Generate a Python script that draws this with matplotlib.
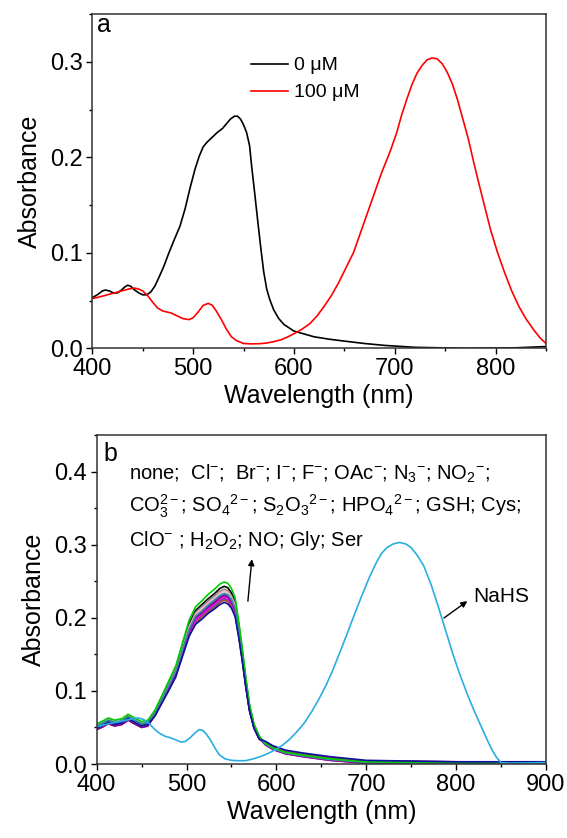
import matplotlib
matplotlib.use("Agg")
import matplotlib.pyplot as plt
from matplotlib.ticker import MultipleLocator, FormatStrFormatter

plt.rcParams['font.family'] = ['Liberation Sans', 'DejaVu Sans']
plt.rcParams['mathtext.fontset'] = 'custom'
plt.rcParams['mathtext.rm'] = 'Liberation Sans'
plt.rcParams['mathtext.it'] = 'Liberation Sans:italic'
plt.rcParams['mathtext.bf'] = 'Liberation Sans:bold'

# ---- panel a: 0 uM vs 100 uM ----
wl_0uM = [400, 405, 410, 413, 417, 421, 425, 429, 432, 435, 438, 442, 446, 450, 454, 458, 462, 466,
          471, 476, 481, 487, 492, 497, 502, 506, 510, 514, 519, 524, 529, 533, 537, 541, 544, 547,
          550, 553, 556, 558, 561, 564, 567, 570, 573, 576, 580, 585, 590, 600, 610, 620, 635, 650,
          670, 690, 720, 770, 820, 850]
abs_0uM = [0.053, 0.056, 0.060, 0.061, 0.060, 0.058, 0.058, 0.061, 0.064, 0.066, 0.065, 0.061, 0.058,
           0.056, 0.056, 0.059, 0.065, 0.074, 0.086, 0.100, 0.113, 0.128, 0.146, 0.168, 0.188, 0.201,
           0.211, 0.216, 0.221, 0.226, 0.230, 0.235, 0.240, 0.243, 0.243, 0.240, 0.234, 0.226, 0.212,
           0.191, 0.163, 0.134, 0.106, 0.080, 0.062, 0.051, 0.040, 0.031, 0.025, 0.018, 0.015, 0.012,
           0.0095, 0.0075, 0.005, 0.003, 0.001, 0.0, 0.0005, 0.0018]

wl_100uM = [400, 408, 415, 422, 429, 436, 442, 446, 450, 455, 460, 465, 470, 478, 484, 490, 496, 500,
            505, 510, 515, 519, 523, 528, 533, 538, 543, 550, 558, 566, 573, 580, 587, 594, 601, 608,
            616, 623, 630, 637, 644, 651, 659, 666, 673, 680, 687, 695, 702, 707, 712, 717, 722, 727,
            732, 737, 742, 747, 752, 757, 762, 767, 773, 778, 784, 790, 795, 802, 809, 816, 823, 830,
            838, 844, 850]
abs_100uM = [0.052, 0.054, 0.056, 0.058, 0.060, 0.062, 0.063, 0.062, 0.060, 0.055, 0.048, 0.042, 0.039,
             0.037, 0.034, 0.031, 0.030, 0.032, 0.038, 0.045, 0.047, 0.045, 0.039, 0.030, 0.020, 0.012,
             0.008, 0.005, 0.0046, 0.0048, 0.0055, 0.007, 0.0088, 0.012, 0.0158, 0.020, 0.026, 0.034,
             0.044, 0.055, 0.068, 0.083, 0.100, 0.121, 0.142, 0.163, 0.184, 0.205, 0.226, 0.245, 0.261,
             0.276, 0.288, 0.296, 0.302, 0.304, 0.303, 0.298, 0.289, 0.277, 0.261, 0.242, 0.219, 0.196,
             0.170, 0.145, 0.124, 0.100, 0.079, 0.060, 0.044, 0.031, 0.019, 0.011, 0.005]

# ---- panel b: interfering species (shared wavelength grid) ----
wl_b = [400, 407, 413, 420, 428, 435, 442, 450, 457, 465, 472, 480, 488, 496, 503, 510, 517, 524, 531,
        537, 542, 546, 550, 554, 558, 562, 566, 570, 575, 581, 588, 596, 610, 630, 660, 700, 800, 900]

none = [.053, .057, .061, .058, .060, .066, .061, .056, .058,
        .072, .090, .110, .131, .164, .192, .210, .218, .226, .233, .240, .243, .241, .234, .222, .191,
        .155, .115, .080, .054, .037,
        .027, .021, .015, .011, .006, .002, .001, .001]
cl = [.052, .056, .060, .057, .059, .065, .060, .055, .057,
      .071, .089, .108, .129, .162, .189, .207, .215, .223, .230, .236, .239, .237, .230, .219, .188,
      .153, .113, .079, .053, .036,
      .027, .021, .015, .011, .006, .002, .001, .001]
br = [.053, .057, .061, .058, .060, .066, .061, .056, .058,
      .070, .088, .107, .128, .160, .187, .205, .213, .220, .227, .234, .237, .235, .228, .216, .186,
      .151, .112, .078, .053, .036,
      .028, .022, .016, .012, .007, .003, .002, .002]
iod = [.051, .055, .059, .056, .058, .064, .059, .054, .056,
       .069, .087, .106, .126, .158, .185, .203, .210, .218, .225, .232, .234, .233, .226, .214, .184,
       .150, .111, .077, .052, .036,
       .028, .022, .016, .012, .007, .003, .002, .002]
fl = [.052, .056, .060, .057, .059, .065, .060, .055, .057,
      .069, .086, .106, .126, .157, .184, .202, .209, .217, .224, .230, .233, .231, .225, .213, .183,
      .149, .110, .077, .052, .036,
      .029, .023, .017, .013, .008, .004, .002, .002]
oac = [.051, .055, .059, .056, .058, .064, .059, .054, .056,
       .069, .086, .105, .125, .157, .183, .201, .208, .216, .223, .229, .232, .230, .223, .212, .182,
       .148, .110, .076, .052, .035,
       .029, .023, .017, .013, .008, .004, .002, .002]
n3 = [.050, .054, .058, .055, .057, .063, .058, .053, .055,
      .068, .086, .105, .124, .156, .182, .200, .207, .215, .221, .228, .231, .229, .222, .211, .181,
      .147, .109, .076, .051, .035,
      .028, .022, .016, .012, .007, .003, .002, .002]
no2 = [.051, .055, .059, .056, .058, .064, .059, .054, .056,
       .068, .085, .104, .124, .155, .181, .198, .206, .214, .220, .227, .230, .228, .221, .210, .180,
       .146, .109, .076, .051, .035,
       .029, .023, .017, .013, .008, .004, .002, .002]
co3 = [.050, .054, .058, .055, .057, .063, .058, .053, .055,
       .068, .085, .103, .123, .154, .180, .197, .205, .212, .219, .226, .228, .227, .220, .209, .180,
       .146, .108, .075, .051, .035,
       .030, .024, .018, .014, .009, .004, .003, .003]
so4 = [.049, .053, .057, .054, .056, .062, .057, .052, .054,
       .067, .084, .103, .122, .153, .180, .196, .204, .211, .218, .224, .227, .225, .219, .208, .179,
       .145, .108, .075, .050, .035,
       .029, .023, .017, .013, .008, .004, .002, .002]
s2o3 = [.050, .054, .058, .055, .057, .063, .058, .053, .055,
        .068, .085, .104, .124, .155, .181, .198, .206, .214, .220, .227, .230, .228, .221, .210, .180,
        .146, .109, .076, .051, .035,
        .028, .022, .016, .012, .007, .003, .002, .002]
hpo4 = [.049, .053, .057, .054, .056, .062, .057, .052, .054,
        .067, .084, .102, .122, .153, .179, .195, .203, .210, .217, .223, .226, .224, .218, .206, .178,
        .144, .107, .074, .050, .034,
        .030, .024, .018, .014, .009, .004, .003, .003]
gsh = [.048, .052, .056, .053, .055, .061, .056, .051, .053,
       .067, .083, .102, .121, .152, .178, .194, .202, .209, .216, .222, .225, .223, .216, .205, .177,
       .143, .106, .074, .050, .034,
       .029, .023, .017, .013, .008, .004, .002, .002]
cys = [.048, .052, .056, .053, .055, .061, .056, .051, .053,
       .066, .083, .101, .121, .151, .177, .193, .201, .208, .214, .221, .224, .222, .215, .204, .176,
       .143, .106, .074, .050, .034,
       .030, .024, .018, .014, .009, .004, .003, .003]
clo = [.047, .051, .055, .052, .054, .060, .055, .050, .052,
       .068, .085, .103, .123, .154, .180, .197, .205, .212, .219, .226, .228, .227, .220, .209, .180,
       .146, .108, .075, .051, .035,
       .026, .020, .014, .010, .005, .001, .000, .001]
h2o2 = [.047, .051, .055, .052, .054, .060, .055, .050, .052,
        .068, .086, .105, .124, .156, .182, .200, .207, .215, .221, .228, .231, .229, .222, .211, .181,
        .147, .109, .076, .051, .035,
        .026, .020, .014, .010, .005, .001, .000, .001]
no = [.049, .053, .057, .054, .056, .062, .057, .052, .054,
      .069, .086, .106, .126, .157, .184, .202, .209, .217, .224, .230, .233, .231, .225, .213, .183,
      .149, .110, .077, .052, .036,
      .027, .021, .015, .011, .006, .002, .001, .001]
gly = [.055, .059, .063, .060, .062, .068, .063, .058, .060,
       .074, .092, .113, .134, .168, .197, .215, .223, .232, .239, .246, .249, .247, .240, .228, .196,
       .159, .118, .082, .055, .038,
       .028, .022, .016, .012, .007, .003, .002, .002]
ser = [.049, .053, .057, .054, .056, .062, .057, .052, .054,
       .066, .082, .100, .119, .149, .175, .191, .198, .206, .212, .218, .221, .219, .213, .202, .174,
       .141, .105, .073, .049, .034,
       .031, .025, .019, .015, .010, .005, .003, .003]

wl_nahs = [400, 410, 420, 430, 440, 446, 452, 458, 464, 470, 476, 482, 488, 494, 499, 504, 509, 514,
           518, 522, 527, 532, 537, 543, 550, 558, 566, 574, 582, 590, 598, 606, 614, 622, 631, 639,
           647, 655, 663, 671, 679, 687, 695, 703, 711, 717, 723, 730, 737, 744, 750, 757, 764, 772,
           780, 788, 796, 804, 812, 820, 828, 835, 840, 845, 850, 860, 880, 900]
abs_nahs = [0.051, 0.054, 0.057, 0.059, 0.062, 0.063, 0.061, 0.056, 0.048, 0.042, 0.038, 0.036, 0.033,
            0.030, 0.031, 0.036, 0.042, 0.047, 0.046, 0.041, 0.032, 0.021, 0.012, 0.007, 0.005, 0.0045,
            0.0046, 0.007, 0.010, 0.014, 0.019, 0.025, 0.033, 0.043, 0.056, 0.071, 0.088, 0.107, 0.129,
            0.154, 0.179, 0.205, 0.230, 0.254, 0.275, 0.288, 0.296, 0.301, 0.303, 0.301, 0.296, 0.285,
            0.271, 0.246, 0.216, 0.184, 0.152, 0.123, 0.097, 0.073, 0.051, 0.032, 0.019, 0.009, 0.002,
            0.001, 0.0015, 0.002]

interferents = [none, cl, br, iod, fl, oac, n3, no2, co3, so4, s2o3, hpo4, gsh, cys, clo, h2o2, no, gly, ser]
colors_b = ['black', '#808080', '#FFB0C0', '#C8C8C8', '#2E8BC0', '#808000', '#FF8000', '#008080',
            '#8080FF', '#B8860B', '#00A0A0', '#C000C0', '#6060C0', '#A0522D', '#FF00FF', '#800080',
            '#4682B4', '#00CC00', '#1010A0']


def style_axes(ax, xmax, ymax):
    ax.set_xlim(400, xmax)
    ax.set_ylim(0, ymax)
    ax.xaxis.set_major_locator(MultipleLocator(100))
    ax.xaxis.set_minor_locator(MultipleLocator(50))
    ax.yaxis.set_major_locator(MultipleLocator(0.1))
    ax.yaxis.set_minor_locator(MultipleLocator(0.05))
    ax.yaxis.set_major_formatter(FormatStrFormatter('%.1f'))
    ax.tick_params(which='major', direction='out', length=4, width=1.0, labelsize=17, pad=3)
    ax.tick_params(which='minor', direction='out', length=2.5, width=1.0)
    for s in ax.spines.values():
        s.set_linewidth(1.1)
        s.set_color('#333333')
    ax.set_xlabel('Wavelength (nm)', fontsize=18, labelpad=3)
    ax.set_ylabel('Absorbance', fontsize=18, labelpad=6)


fig = plt.figure(figsize=(5.67, 8.38), dpi=100)

ax1 = fig.add_axes([0.1628, 0.5844, 0.8002, 0.3989])
ax1.plot(wl_0uM, abs_0uM, color='black', lw=1.2, label='0 \u03bcM')
ax1.plot(wl_100uM, abs_100uM, color='#FF0000', lw=1.2, label='100 \u03bcM')
style_axes(ax1, 850, 0.35)
ax1.text(405, 0.331, 'a', fontsize=18)
ax1.legend(loc='upper left', bbox_to_anchor=(0.35, 0.872), frameon=False, fontsize=14,
           handlelength=1.9, handletextpad=0.3, labelspacing=0.48, borderpad=0, borderaxespad=0)

ax2 = fig.add_axes([0.1705, 0.0883, 0.7924, 0.3926])
for ys, c in zip(interferents, colors_b):
    ax2.plot(wl_b, ys, color=c, lw=1.2)
ax2.plot(wl_nahs, abs_nahs, color='#2AAEE0', lw=1.2)
style_axes(ax2, 900, 0.45)
ax2.text(407, 0.414, 'b', fontsize=18)

ax2.text(436, 0.389, r'none;  Cl$^{-}$;  Br$^{-}$; I$^{-}$; F$^{-}$; OAc$^{-}$; N$_3$$^{-}$; NO$_2$$^{-}$;',
         fontsize=14.5)
ax2.text(436, 0.344, r'CO$_3^{2-}$; SO$_4$$^{2-}$; S$_2$O$_3$$^{2-}$; HPO$_4$$^{2-}$; GSH; Cys;',
         fontsize=14.5)
ax2.text(436, 0.298, r'ClO$^{-}$ ; H$_2$O$_2$; NO; Gly; Ser', fontsize=14.5)

ax2.annotate('', xy=(573, 0.284), xytext=(568, 0.219),
             arrowprops=dict(arrowstyle='-|>', color='black', lw=1.0, mutation_scale=9))
ax2.annotate('', xy=(815, 0.225), xytext=(784, 0.1975),
             arrowprops=dict(arrowstyle='-|>', color='black', lw=1.0, mutation_scale=9))
ax2.text(819, 0.229, 'NaHS', fontsize=15, va='center')

fig.savefig('out.png', dpi=100)
